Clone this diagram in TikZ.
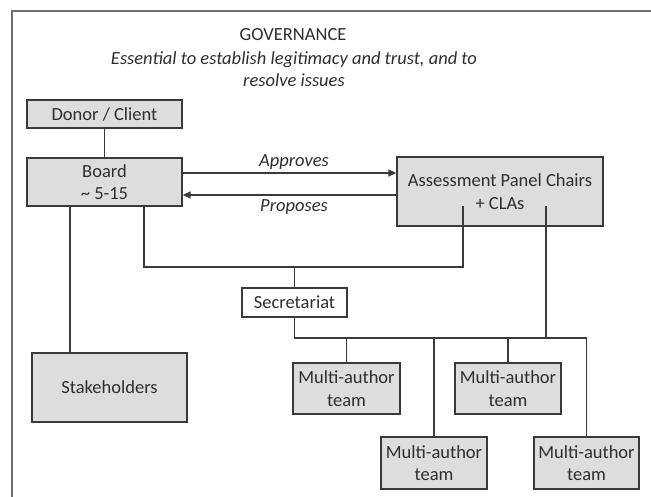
\documentclass[tikz,border=0pt]{standalone}
\usepackage{fontspec}
\setmainfont{Carlito}
\usetikzlibrary{arrows.meta}
\definecolor{boxfill}{HTML}{DCDDDE}
\definecolor{linec}{HTML}{3A3A3A}
\definecolor{framec}{HTML}{707070}
\definecolor{txt}{HTML}{2E2E2E}
\tikzset{
  box/.style={draw=linec, line width=1.3pt, fill=boxfill, inner sep=0pt, align=center, text=txt,
    font=\fontsize{18.5}{22.5}\selectfont},
  wbox/.style={box, fill=white},
  conn/.style={draw=linec, line width=1.3pt},
  arr/.style={conn, -{Triangle[length=8pt,width=7pt]}},
  lbl/.style={text=txt, font=\fontsize{18.5}{22.5}\selectfont\itshape, inner sep=0pt, align=center},
}
\begin{document}
\begin{tikzpicture}[x=1pt,y=-1pt]
\useasboundingbox (0,0) rectangle (651,497);
\draw[framec, line width=1.2pt] (12,497) -- (12,11) -- (651,11);

\node[text=txt, font=\fontsize{18.5}{22.5}\selectfont, inner sep=0pt] (title) at (293,35) {GOVERNANCE};
\node[lbl] (sub) at (294,69) {Essential to establish legitimacy and trust, and to\\resolve issues};

\node[box, minimum width=155pt, minimum height=28pt] (donor) at (104.5,114) {Donor / Client};
\node[box, minimum width=155pt, minimum height=48pt] (board) at (104.5,182) {Board\\\textasciitilde{} 5-15};
\node[box, minimum width=206pt, minimum height=69pt] (apc) at (500,191.5) {Assessment Panel Chairs\\+ CLAs};
\node[box, minimum width=155pt, minimum height=69pt] (stake) at (109.5,387.5) {Stakeholders};
\node[wbox, minimum width=105pt, minimum height=29pt] (sec) at (294.5,302.5) {Secretariat};
\node[box, minimum width=107pt, minimum height=51pt] (ma1) at (346.5,388.5) {Multi-author\\team};
\node[box, minimum width=106pt, minimum height=51pt] (ma2) at (508,388.5) {Multi-author\\team};
\node[box, minimum width=106pt, minimum height=52pt] (ma3) at (434,463) {Multi-author\\team};
\node[box, minimum width=105pt, minimum height=52pt] (ma4) at (586.5,463) {Multi-author\\team};

\coordinate (j1) at (294.5,267);
\coordinate (bus) at (294.5,338);
\coordinate (apcA) at (463,206);
\coordinate (apcB) at (546,206);

% donor - board
\draw[conn] (donor.south) -- (board.north);
% board - stakeholders
\draw[conn] (board.south -| 70,0) -- (stake.north -| 70,0);
% board - apc loop
\draw[conn] (board.south -| 144,0) |- (j1) -| (apcA);
\draw[conn] (j1) -- (sec.north);
% arrows
\draw[arr] (board.east |- 0,173) -- (apc.west |- 0,173);
\draw[arr] (apc.west |- 0,195) -- (board.east |- 0,195);
\node[lbl] (appr) at (294,162) {Approves};
\node[lbl] (prop) at (294,207) {Proposes};
% secretariat bus
\draw[conn] (sec.south) -- (bus) -| (ma4.north);
\draw[conn] (apcB) -- (apcB |- bus);
\draw[conn] (ma1.north |- bus) -- (ma1.north);
\draw[conn] (ma2.north |- bus) -- (ma2.north);
\draw[conn] (ma3.north |- bus) -- (ma3.north);
\end{tikzpicture}
\end{document}
